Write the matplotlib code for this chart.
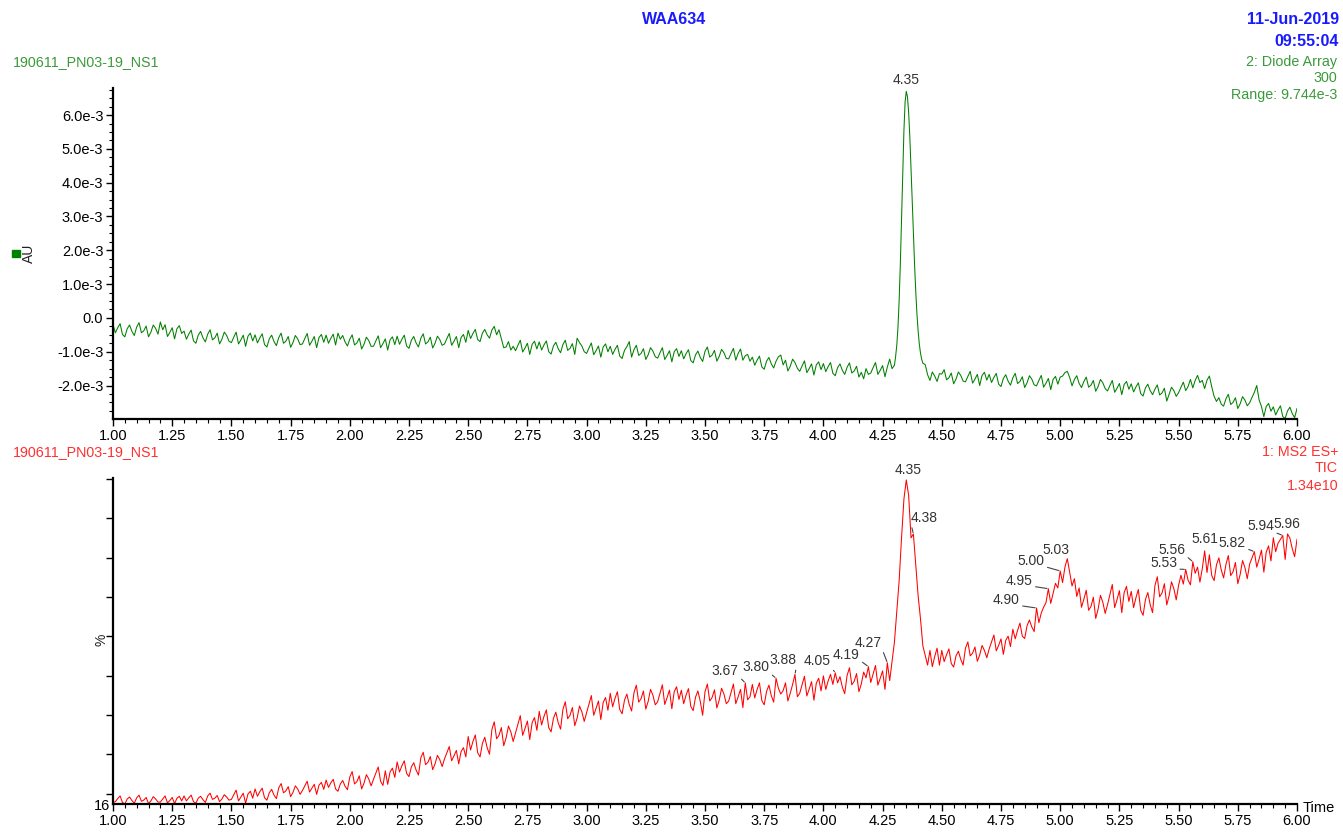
import numpy as np
import matplotlib
matplotlib.use("Agg")
import matplotlib.pyplot as plt
from matplotlib.ticker import MultipleLocator, FuncFormatter, FixedLocator
from matplotlib.patches import Rectangle

plt.rcParams['font.family'] = ['Liberation Sans', 'DejaVu Sans']

# --- data -------------------------------------------------------------
# diode array trace (1e-5 AU), one reading every 0.01 min, 1.00 .. 6.00 min
uv_signal = [
    -20, -44, -29, -17, -49, -56, -32, -21, -40, -52,
    -27, -14, -44, -38, -24, -56, -42, -21, -31, -48,
    -12, -35, -20, -55, -43, -29, -62, -32, -23, -46,
    -39, -63, -48, -36, -68, -75, -51, -40, -59, -71,
    -48, -35, -65, -59, -45, -77, -63, -42, -52, -69,
    -73, -57, -42, -77, -65, -51, -84, -54, -45, -68,
    -50, -74, -59, -47, -79, -86, -62, -51, -70, -82,
    -58, -45, -75, -69, -55, -87, -73, -52, -62, -79,
    -77, -61, -46, -81, -69, -55, -88, -58, -49, -72,
    -51, -75, -60, -48, -80, -45, -63, -52, -71, -83,
    -63, -50, -80, -74, -60, -92, -78, -57, -67, -84,
    -84, -68, -53, -88, -76, -62, -95, -65, -56, -79,
    -54, -78, -63, -51, -83, -90, -66, -55, -74, -86,
    -60, -47, -77, -71, -57, -89, -75, -54, -64, -81,
    -77, -61, -46, -81, -69, -55, -88, -58, -49, -72,
    -37, -61, -46, -34, -64, -70, -45, -34, -50, -60,
    -36, -25, -50, -35, -62, -88, -86, -70, -95, -84,
    -97, -81, -66, -101, -89, -75, -108, -78, -69, -92,
    -71, -95, -80, -68, -100, -107, -83, -72, -91, -103,
    -79, -66, -96, -90, -76, -108, -60, -73, -83, -100,
    -105, -89, -74, -109, -97, -83, -116, -86, -77, -100,
    -84, -108, -93, -81, -113, -120, -96, -85, -70, -116,
    -94, -81, -111, -105, -91, -123, -109, -88, -98, -115,
    -119, -103, -88, -123, -111, -97, -130, -100, -91, -114,
    -97, -121, -106, -94, -126, -133, -109, -98, -117, -129,
    -99, -86, -116, -110, -96, -128, -114, -93, -103, -120,
    -121, -105, -90, -125, -105, -92, -125, -112, -108, -128,
    -116, -140, -125, -113, -145, -152, -128, -117, -136, -148,
    -128, -115, -110, -139, -125, -157, -143, -122, -132, -149,
    -158, -142, -127, -162, -150, -136, -169, -139, -130, -153,
    -135, -159, -144, -132, -164, -171, -147, -136, -155, -167,
    -146, -133, -163, -157, -143, -175, -161, -180, -150, -167,
    -163, -147, -132, -167, -155, -141, -174, -145, -122, -150,
    -140, -80, 54, 292, 553, 670, 607, 445, 249, 78,
    -39, -104, -134, -138, -168, -185, -160, -172, -188, -165,
    -166, -153, -183, -177, -163, -195, -181, -160, -170, -187,
    -189, -173, -158, -193, -181, -167, -200, -170, -161, -184,
    -167, -191, -176, -164, -196, -203, -179, -168, -187, -199,
    -177, -164, -194, -188, -174, -206, -192, -171, -181, -198,
    -201, -185, -170, -205, -193, -179, -212, -182, -173, -196,
    -175, -172, -162, -158, -176, -201, -182, -171, -194, -206,
    -188, -175, -205, -199, -185, -217, -203, -182, -192, -209,
    -216, -200, -185, -220, -208, -194, -227, -197, -188, -211,
    -195, -219, -204, -192, -224, -231, -207, -196, -215, -227,
    -211, -198, -228, -222, -208, -246, -226, -205, -215, -232,
    -221, -205, -190, -215, -203, -182, -207, -185, -170, -191,
    -185, -209, -184, -172, -204, -232, -247, -236, -255, -261,
    -239, -226, -256, -250, -236, -268, -254, -233, -243, -260,
    -251, -235, -220, -200, -243, -262, -292, -262, -253, -276,
    -263, -287, -272, -260, -292, -297, -275, -264, -283, -295,
    -268,
]
# finer readings across the 4.35 min peak, every 0.005 min, 4.300 .. 4.420
uv_peak_signal = [
    -140, -114, -80, -26, 54, 162, 292, 430, 553, 639, 670, 654, 607,
    535, 445, 348, 249, 158, 78, 12, -39, -77, -104, -122, -134,
]
uv_peak_start, uv_peak_end = 4.30, 4.42

# TIC trace (%), one reading every 0.01 min, 1.00 .. 6.00 min
ms_signal = [
    16.4, 16.6, 17.4, 18.1, 16.4, 16.0, 17.3, 17.8, 16.9, 16.2,
    17.6, 18.3, 16.7, 17.0, 17.7, 16.1, 16.8, 17.9, 17.3, 16.5,
    16.5, 17.3, 18.1, 16.3, 16.9, 17.7, 16.1, 17.5, 18.0, 16.8,
    18.1, 16.8, 17.6, 18.3, 16.6, 16.2, 17.5, 18.0, 17.1, 16.4,
    18.1, 18.8, 17.2, 17.5, 18.2, 16.6, 17.3, 18.4, 17.8, 17.0,
    17.2, 18.4, 19.6, 16.8, 17.8, 18.8, 16.2, 18.6, 19.3, 17.5,
    19.9, 18.0, 19.2, 20.1, 17.6, 17.0, 18.9, 19.8, 18.3, 17.4,
    20.2, 21.3, 18.9, 19.4, 20.5, 17.9, 19.0, 20.7, 19.9, 18.5,
    19.5, 20.7, 21.9, 19.1, 20.1, 21.1, 18.5, 20.9, 21.6, 19.8,
    22.2, 20.3, 21.5, 22.4, 19.9, 19.3, 21.2, 22.1, 20.6, 19.7,
    23.0, 24.4, 21.2, 21.8, 23.3, 19.9, 21.4, 23.6, 22.5, 20.7,
    22.4, 24.0, 25.6, 21.9, 20.8, 24.6, 21.1, 24.3, 25.3, 22.9,
    26.9, 24.3, 25.9, 27.2, 23.9, 23.1, 25.6, 26.7, 24.8, 23.5,
    28.0, 29.4, 26.2, 26.8, 28.3, 24.9, 26.4, 28.6, 27.5, 25.7,
    27.7, 29.3, 30.9, 27.2, 28.5, 29.9, 26.4, 29.6, 30.6, 28.2,
    33.5, 30.0, 32.2, 33.9, 29.3, 28.2, 31.7, 33.3, 30.6, 28.9,
    35.3, 37.3, 32.9, 33.8, 35.8, 31.1, 33.1, 36.2, 34.7, 32.2,
    34.5, 36.7, 38.9, 33.8, 35.6, 37.5, 32.7, 37.1, 38.4, 35.1,
    40.0, 36.5, 38.7, 40.4, 35.8, 34.7, 38.2, 39.8, 37.1, 35.4,
    40.5, 42.5, 38.1, 39.0, 41.0, 36.3, 38.3, 41.4, 39.9, 37.4,
    39.7, 41.9, 44.1, 39.0, 40.8, 42.7, 37.9, 42.3, 43.6, 40.3,
    44.7, 41.2, 43.4, 45.1, 40.5, 39.4, 42.9, 44.5, 41.8, 40.1,
    44.8, 46.8, 42.4, 43.3, 45.3, 40.6, 42.6, 45.7, 44.2, 41.7,
    42.5, 44.7, 46.9, 41.8, 43.6, 45.5, 40.7, 45.1, 46.4, 43.1,
    45.5, 42.0, 44.2, 45.9, 41.3, 40.2, 43.7, 45.3, 42.6, 39.0,
    45.1, 47.1, 42.7, 43.6, 45.6, 40.9, 42.9, 46.0, 44.5, 42.0,
    42.7, 44.9, 47.1, 42.0, 43.8, 45.7, 41.0, 47.4, 43.0, 43.8,
    47.0, 43.5, 45.7, 47.4, 42.8, 41.7, 45.2, 46.8, 44.1, 42.4,
    48.6, 46.0, 44.5, 45.4, 47.4, 42.7, 44.7, 47.0, 49.6, 43.8,
    44.7, 46.9, 49.1, 44.0, 45.8, 47.7, 42.9, 47.3, 48.6, 45.3,
    49.2, 45.7, 47.9, 49.6, 47.0, 50.0, 47.4, 49.0, 46.3, 44.6,
    49.3, 51.3, 46.9, 47.8, 49.8, 45.1, 47.1, 50.2, 48.7, 51.6,
    47.5, 49.7, 51.9, 46.8, 48.6, 50.5, 45.7, 52.6, 48.0, 53.0,
    58.0, 66.0, 74.0, 85.0, 95.0, 100.0, 96.0, 85.0, 86.0, 78.0,
    70.0, 64.0, 57.0, 54.5, 52.0, 55.8, 51.6, 54.2, 56.4, 52.0,
    55.8, 52.9, 54.7, 56.2, 52.4, 51.5, 54.4, 55.6, 53.5, 52.0,
    56.4, 58.0, 54.4, 55.1, 56.7, 53.0, 54.6, 57.1, 55.8, 53.9,
    56.2, 58.0, 59.8, 55.7, 57.1, 58.8, 54.8, 58.4, 59.5, 56.8,
    61.3, 58.8, 61.0, 62.9, 59.5, 58.9, 62.2, 63.7, 61.9, 60.7,
    66.8, 63.0, 65.5, 67.0, 68.2, 71.8, 68.0, 70.6, 73.2, 72.0,
    76.4, 73.4, 77.4, 79.6, 76.0, 72.5, 74.4, 69.8, 72.0, 67.0,
    69.1, 71.4, 66.2, 67.2, 69.6, 64.1, 66.5, 70.1, 68.3, 65.4,
    67.7, 70.3, 72.9, 66.9, 69.0, 71.3, 65.6, 70.8, 72.4, 68.5,
    71.1, 66.9, 69.5, 71.6, 66.2, 64.9, 69.0, 70.8, 67.7, 65.6,
    72.6, 74.9, 69.7, 70.7, 73.1, 67.6, 70.0, 73.6, 71.8, 68.9,
    72.7, 75.3, 73.0, 76.8, 74.0, 72.8, 78.8, 75.8, 77.4, 73.5,
    77.0, 81.6, 76.0, 80.6, 75.2, 73.9, 78.0, 79.8, 76.7, 74.6,
    78.1, 80.4, 75.2, 76.2, 78.6, 73.1, 75.5, 79.1, 77.3, 74.4,
    78.2, 79.8, 81.4, 77.4, 79.5, 81.8, 76.1, 81.3, 82.9, 79.0,
    85.0, 81.4, 83.6, 84.6, 85.6, 79.4, 86.0, 84.9, 82.2, 80.1,
    84.6,
]

uv_peak_labels = [4.35]
ms_peak_labels = [3.67, 3.80, 3.88, 4.05, 4.19, 4.27, 4.35, 4.38, 4.90,
                  4.95, 5.00, 5.03, 5.53, 5.56, 5.61, 5.82, 5.94, 5.96]

# label placement (pixels from the apex, right/up positive; last = leader line)
uv_label_offsets = [(0, 11, False)]
ms_label_offsets = [(-20, 12, True), (-20, 11, True), (-12, 14, True), (-18, 12, True),
                    (-22, 12, True), (-19, 20, True), (2, 10, False), (11, 16, True),
                    (-30, 8, True), (-29, 8, True), (-29, 10, True), (-11, 9, False),
                    (-22, 6, True), (-21, 12, True), (0, 12, False), (-22, 9, True),
                    (-22, 9, True), (-1, 10, False)]

# --- build series ---------------------------------------------------------
t_uv = np.linspace(1.0, 6.0, len(uv_signal))
t_uv_pk = np.linspace(uv_peak_start, uv_peak_end, len(uv_peak_signal))
keep = (t_uv < uv_peak_start - 1e-6) | (t_uv > uv_peak_end + 1e-6)
t_all = np.concatenate([t_uv[keep], t_uv_pk])
v_all = np.concatenate([np.array(uv_signal)[keep], uv_peak_signal]) * 1e-5
order = np.argsort(t_all)
t_all, v_all = t_all[order], v_all[order]

t_ms = np.linspace(1.0, 6.0, len(ms_signal))
v_ms = np.array(ms_signal)

W, H = 1343, 832
fig = plt.figure(figsize=(W / 100, H / 100), dpi=100)


def fx(px):
    return px / W


def fy(py):
    return 1 - py / H


GREEN_TXT = '#3a9a3a'
RED_TXT = '#ff3030'
BLUE = '#1a1aff'
LBL = '#333333'

ax1 = fig.add_axes([fx(113), fy(419), fx(1297) - fx(113), fy(88) - fy(419)])
ax2 = fig.add_axes([fx(113), fy(804), fx(1297) - fx(113), fy(478) - fy(804)])

ax1.plot(t_all, v_all, color='#008000', lw=0.75)
ax2.plot(t_ms, v_ms, color='#ff0000', lw=0.75)

for ax in (ax1, ax2):
    ax.set_xlim(1.0, 6.0)
    for s in ('top', 'right'):
        ax.spines[s].set_visible(False)
    for s in ('left', 'bottom'):
        ax.spines[s].set_linewidth(1.6)
        ax.spines[s].set_color('black')
    ax.xaxis.set_major_locator(MultipleLocator(0.25))
    ax.xaxis.set_minor_locator(MultipleLocator(0.05))
    ax.xaxis.set_major_formatter(FuncFormatter(lambda v, p: f"{v:.2f}"))
    ax.tick_params(which='major', direction='out', length=5, width=1,
                   labelsize=10.5, colors='black', pad=2)
    ax.tick_params(which='minor', direction='out', length=3, width=0.8, colors='black')
    ax.patch.set_alpha(0)

ax1.set_ylim(-2.99e-3, 6.80e-3)
ax1.yaxis.set_major_locator(MultipleLocator(1e-3))
ax1.yaxis.set_minor_locator(MultipleLocator(0.25e-3))


def au_fmt(v, p):
    if abs(v) < 1e-9:
        return "0.0"
    return f"{v * 1e3:.1f}e-3"


ax1.yaxis.set_major_formatter(FuncFormatter(au_fmt))

ax2.set_ylim(16, 100.5)
ax2.yaxis.set_major_locator(FixedLocator([16]))
ax2.yaxis.set_major_formatter(FuncFormatter(lambda v, p: "16"))
ax2.yaxis.set_minor_locator(FixedLocator(np.arange(18.67, 100.5, 10.2)))
ax2.tick_params(axis='y', which='major', length=0)
ax2.tick_params(axis='y', which='minor', length=5, width=1)


def label_peaks(ax, t, v, labels, offsets):
    for lab, (dx, dy, leader) in zip(labels, offsets):
        y = np.interp(lab, t, v)
        kw = {}
        if leader:
            rel = (1, 0.1) if dx < 0 else (0, 0.1)
            kw['arrowprops'] = dict(arrowstyle='-', color='#444444', lw=0.8,
                                    shrinkA=0, shrinkB=1, relpos=rel)
        ax.annotate(f"{lab:.2f}", xy=(lab, y), xytext=(dx, dy),
                    textcoords='offset pixels', ha='center', va='center',
                    fontsize=10, color=LBL, annotation_clip=False, **kw)


label_peaks(ax1, t_all, v_all, uv_peak_labels, uv_label_offsets)
label_peaks(ax2, t_ms, v_ms, ms_peak_labels, ms_label_offsets)

# --- header texts -----------------------------------------------------
fig.text(fx(674), fy(20), "WAA634", color=BLUE, fontsize=11.5, fontweight='bold',
         ha='center', va='center')
fig.text(fx(1339), fy(20), "11-Jun-2019", color=BLUE, fontsize=11.5, fontweight='bold',
         ha='right', va='center')
fig.text(fx(1339), fy(41), "09:55:04", color=BLUE, fontsize=11.5, fontweight='bold',
         ha='right', va='center')

fig.text(fx(13), fy(62), "190611_PN03-19_NS1", color=GREEN_TXT, fontsize=10.3,
         ha='left', va='center')
fig.text(fx(1337), fy(62), "2: Diode Array", color=GREEN_TXT, fontsize=10.3,
         ha='right', va='center')
fig.text(fx(1337), fy(78), "300", color=GREEN_TXT, fontsize=10.3, ha='right', va='center')
fig.text(fx(1337), fy(95), "Range: 9.744e-3", color=GREEN_TXT, fontsize=10.3,
         ha='right', va='center')

fig.text(fx(13), fy(452), "190611_PN03-19_NS1", color=RED_TXT, fontsize=10.3,
         ha='left', va='center')
fig.text(fx(1338), fy(452), "1: MS2 ES+", color=RED_TXT, fontsize=10.3,
         ha='right', va='center')
fig.text(fx(1338), fy(468), "TIC", color=RED_TXT, fontsize=10.3, ha='right', va='center')
fig.text(fx(1338), fy(486), "1.34e10", color=RED_TXT, fontsize=10.3,
         ha='right', va='center')

fig.text(fx(29), fy(253), "AU", color='#222222', fontsize=10, rotation=90,
         ha='center', va='center')
fig.add_artist(Rectangle((fx(12), fy(257)), 8 / W, 7 / H, transform=fig.transFigure,
                         color='#008000'))
fig.text(fx(101), fy(640), "%", color='#222222', fontsize=10, rotation=90,
         ha='center', va='center')
fig.text(fx(1303), fy(808), "Time", color='black', fontsize=10.5, ha='left', va='center')

fig.savefig("out.png", dpi=100)
